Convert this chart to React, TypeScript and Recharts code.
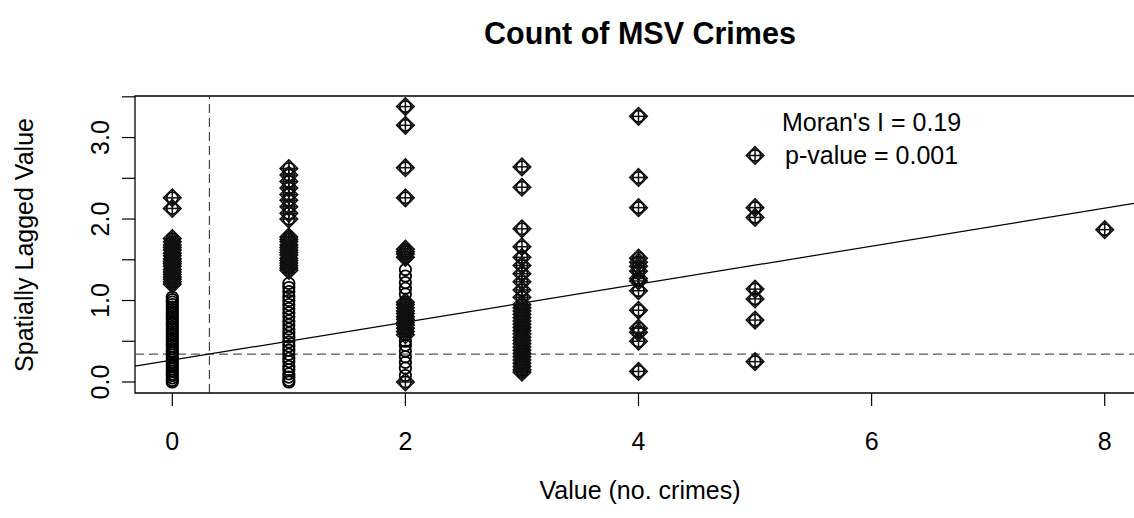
import React from 'react';
import {
  ScatterChart,
  Scatter,
  XAxis,
  YAxis,
  ReferenceLine,
  ReferenceArea,
  ReferenceDot,
} from 'recharts';

// crime counts on the x axis
const crimeCounts = [0, 1, 2, 3, 4, 5, 8];

// spatially lagged values per crime count: ordinary points
const lagPlain0 = [0.0, 0.02, 0.05, 0.08, 0.1, 0.13, 0.16, 0.19, 0.21, 0.24, 0.27, 0.3, 0.33, 0.36, 0.38, 0.41, 0.44, 0.47, 0.5, 0.53, 0.56, 0.59, 0.62, 0.65, 0.68, 0.71, 0.74, 0.77, 0.8, 0.83, 0.86, 0.89, 0.92, 0.95, 0.98, 1.01, 1.04];
const lagPlain1 = [0.0, 0.02, 0.06, 0.1, 0.15, 0.19, 0.25, 0.29, 0.34, 0.39, 0.44, 0.49, 0.55, 0.6, 0.65, 0.7, 0.75, 0.8, 0.85, 0.9, 0.95, 1.0, 1.05, 1.11, 1.16, 1.21];
const lagPlain2 = [0.08, 0.17, 0.24, 0.31, 0.38, 0.45, 0.5, 1.08, 1.15, 1.22, 1.3, 1.38];
const lagPlain3: number[] = [];
const lagPlain4: number[] = [];
const lagPlain5: number[] = [];
const lagPlain8: number[] = [];

// influential observations (drawn with the diamond marker)
const lagInfl0 = [2.26, 2.13, 1.76, 1.72, 1.68, 1.65, 1.62, 1.58, 1.55, 1.51, 1.48, 1.45, 1.42, 1.38, 1.35, 1.32, 1.29, 1.26, 1.23, 1.2];
const lagInfl1 = [2.62, 2.54, 2.46, 2.38, 2.3, 2.23, 2.15, 2.07, 2.0, 1.78, 1.75, 1.72, 1.68, 1.65, 1.62, 1.59, 1.56, 1.52, 1.49, 1.46, 1.43, 1.4, 1.37];
const lagInfl2 = [3.38, 3.15, 2.63, 2.26, 1.63, 1.6, 1.57, 1.53, 0.98, 0.95, 0.91, 0.87, 0.84, 0.8, 0.77, 0.73, 0.7, 0.66, 0.62, 0.58, 0.0];
const lagInfl3 = [2.64, 2.39, 1.88, 1.66, 1.53, 1.43, 1.33, 1.23, 1.13, 1.04, 0.95, 0.91, 0.87, 0.83, 0.79, 0.75, 0.71, 0.67, 0.63, 0.59, 0.55, 0.51, 0.47, 0.43, 0.39, 0.35, 0.31, 0.27, 0.23, 0.19, 0.15, 0.12];
const lagInfl4 = [3.26, 2.51, 2.14, 1.52, 1.47, 1.42, 1.36, 1.27, 1.24, 1.12, 0.88, 0.66, 0.61, 0.5, 0.13];
const lagInfl5 = [2.78, 2.14, 2.02, 1.14, 1.02, 0.76, 0.25];
const lagInfl8 = [1.87];

const plainByCount = [lagPlain0, lagPlain1, lagPlain2, lagPlain3, lagPlain4, lagPlain5, lagPlain8];
const inflByCount = [lagInfl0, lagInfl1, lagInfl2, lagInfl3, lagInfl4, lagInfl5, lagInfl8];

const xTicks = [0, 2, 4, 6, 8];
const yTicks = [0, 0.5, 1, 1.5, 2, 2.5, 3, 3.5];

const meanCount = 0.318;
const meanLag = 0.343;
const slope = 0.233;
const intercept = 0.269;

const xDomain: [number, number] = [-0.32, 8.32];
const yDomain: [number, number] = [-0.135, 3.51];

const inflPoints = crimeCounts.flatMap((c, i) => inflByCount[i].map((y) => ({ x: c, y })));
// every observation gets an open circle, influential ones sit underneath a diamond too
const allPoints = [
  ...crimeCounts.flatMap((c, i) => plainByCount[i].map((y) => ({ x: c, y }))),
  ...inflPoints,
];

const FONT = '"Liberation Sans", Arial, sans-serif';

const OpenCircle = (props: any) => {
  const { cx, cy } = props;
  if (cx == null || cy == null) return null;
  return <circle cx={cx} cy={cy} r={5.7} fill="none" stroke="#000" strokeWidth={1.8} />;
};

const DiamondPlus = (props: any) => {
  const { cx, cy } = props;
  if (cx == null || cy == null) return null;
  const d = 8.8;
  return (
    <g stroke="#111" strokeWidth={1.5} fill="none">
      <polygon points={`${cx},${cy - d} ${cx + d},${cy} ${cx},${cy + d} ${cx - d},${cy}`} />
      <line x1={cx - d} y1={cy} x2={cx + d} y2={cy} />
      <line x1={cx} y1={cy - d} x2={cx} y2={cy + d} />
    </g>
  );
};

const XTick = (props: any) => {
  const { x, payload } = props;
  return (
    <text x={x} y={450} textAnchor="middle" fontFamily={FONT} fontSize={25} fill="#000">
      {payload.value}
    </text>
  );
};

const YTick = (props: any) => {
  const { y, payload } = props;
  if (!Number.isInteger(payload.value)) return null;
  return (
    <text
      transform={`translate(109, ${y}) rotate(-90)`}
      textAnchor="middle"
      fontFamily={FONT}
      fontSize={25}
      fill="#000"
    >
      {payload.value.toFixed(1)}
    </text>
  );
};

const MoranLabel = (props: any) => {
  const { viewBox } = props;
  const cx = viewBox.x;
  return (
    <text textAnchor="middle" fontFamily={FONT} fontSize={25} fill="#000">
      <tspan x={cx} y={131}>Moran's I = 0.19</tspan>
      <tspan x={cx} y={163.5}>p-value = 0.001</tspan>
    </text>
  );
};

export default function App() {
  return (
    <div
      style={{
        position: 'absolute',
        left: 0,
        top: 0,
        width: 1134,
        height: 518,
        overflow: 'hidden',
        background: '#fff',
      }}
    >
      <ScatterChart width={1150} height={518} margin={{ top: 96, right: 8, bottom: 0, left: 0 }}>
        <XAxis
          type="number"
          dataKey="x"
          domain={xDomain}
          allowDataOverflow
          ticks={xTicks}
          height={125}
          axisLine={false}
          tickSize={13}
          tickLine={{ stroke: '#000', strokeWidth: 1.2 }}
          tick={<XTick />}
        />
        <YAxis
          type="number"
          dataKey="y"
          domain={yDomain}
          allowDataOverflow
          ticks={yTicks}
          width={135}
          axisLine={false}
          tickSize={13}
          tickLine={{ stroke: '#000', strokeWidth: 1.2 }}
          tick={<YTick />}
        />
        <ReferenceArea
          x1={xDomain[0]}
          x2={xDomain[1]}
          y1={yDomain[0]}
          y2={yDomain[1]}
          fill="none"
          stroke="#000"
          strokeWidth={1.3}
          fillOpacity={0}
        />
        <ReferenceLine x={meanCount} stroke="#222" strokeWidth={1} strokeDasharray="9 5" />
        <ReferenceLine y={meanLag} stroke="#555" strokeWidth={1.3} strokeDasharray="9 5" />
        <ReferenceLine
          segment={[
            { x: xDomain[0], y: intercept + slope * xDomain[0] },
            { x: xDomain[1], y: intercept + slope * xDomain[1] },
          ]}
          stroke="#000"
          strokeWidth={1.2}
        />
        <Scatter data={allPoints} shape={<OpenCircle />} isAnimationActive={false} />
        <Scatter data={inflPoints} shape={<DiamondPlus />} isAnimationActive={false} />
        <ReferenceDot x={6} y={3} r={0} stroke="none" label={<MoranLabel />} />
      </ScatterChart>
      <svg
        width={1134}
        height={518}
        style={{ position: 'absolute', left: 0, top: 0, pointerEvents: 'none' }}
      >
        <text x={640} y={44} textAnchor="middle" fontFamily={FONT} fontSize={30.5} fontWeight="bold">
          Count of MSV Crimes
        </text>
        <text x={640} y={499} textAnchor="middle" fontFamily={FONT} fontSize={25}>
          Value (no. crimes)
        </text>
        <text
          transform="translate(33, 245) rotate(-90)"
          textAnchor="middle"
          fontFamily={FONT}
          fontSize={25}
        >
          Spatially Lagged Value
        </text>
      </svg>
    </div>
  );
}
